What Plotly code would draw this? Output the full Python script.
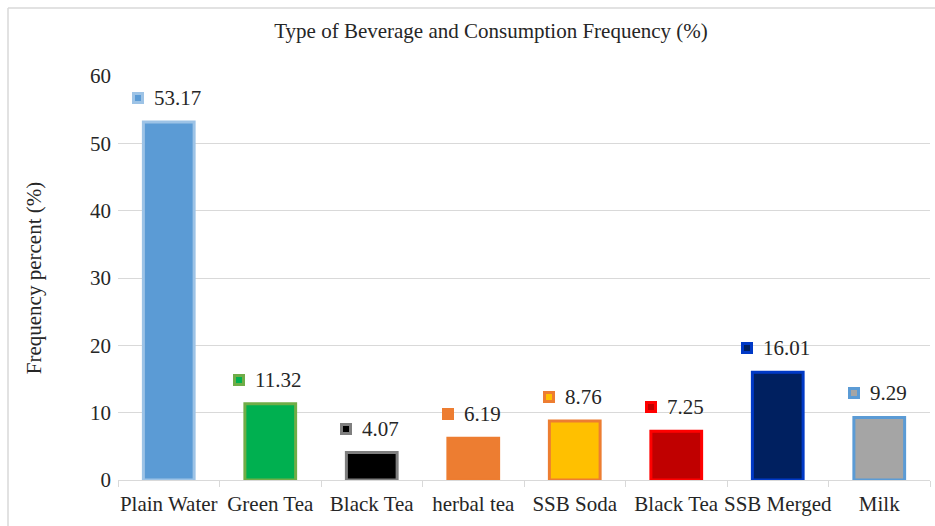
import plotly.graph_objects as go

categories = ["Plain Water", "Green Tea", "Black Tea", "herbal tea", "SSB Soda", "Black Tea", "SSB Merged", "Milk"]
values = [53.17, 11.32, 4.07, 6.19, 8.76, 7.25, 16.01, 9.29]
fill_colors = ["#5B9BD5", "#00B050", "#000000", "#ED7D31", "#FFC000", "#C00000", "#002060", "#A5A5A5"]
line_colors = ["#9DC3E6", "#70AD47", "#7F7F7F", "#ED7D31", "#ED7D31", "#FF0000", "#0039C6", "#5B9BD5"]
y_ticks = [0, 10, 20, 30, 40, 50, 60]

W, H = 935, 526
ML, MR, MT, MB = 118, 5, 76, 46
PW, PH = W - ML - MR, H - MT - MB
FONT = "Liberation Serif"
TXT = "#262626"
FS = 21

xs = list(range(len(categories)))

fig = go.Figure()
fig.add_trace(go.Bar(
    x=xs, y=values, width=0.5,
    marker=dict(color=fill_colors, line=dict(color=line_colors, width=3)),
    hoverinfo="skip", showlegend=False,
))
# invisible trace on overlay axis to show boundary tick marks
fig.add_trace(go.Scatter(x=[-0.5, len(categories) - 0.5], y=[0, 0], xaxis="x2",
                         mode="lines", line=dict(width=0), hoverinfo="skip", showlegend=False))

annotations = []
for i, v in enumerate(values):
    label = f"{v:.2f}"
    tw = len(label) * 10.5 - 5.5
    gw = 12 + 9 + tw
    left = -3 - gw / 2
    annotations.append(dict(
        x=i, y=v, xref="x", yref="y", text=" ", showarrow=False,
        xshift=left + 6, yshift=24, width=6, height=6,
        font=dict(size=1), bgcolor=fill_colors[i], bordercolor=line_colors[i],
        borderwidth=3, borderpad=0, xanchor="center", yanchor="middle",
    ))
    annotations.append(dict(
        x=i, y=v, xref="x", yref="y", text=label, showarrow=False,
        xshift=left + 20, yshift=24, xanchor="left", yanchor="middle",
        font=dict(family=FONT, size=FS, color=TXT),
    ))

def px_to_paper_x(p):
    return (p - ML) / PW

def px_to_paper_y(p):
    return (H - MB - p) / PH

shapes = [
    dict(type="line", xref="paper", yref="paper",
         x0=px_to_paper_x(8), x1=px_to_paper_x(W + 5), y0=px_to_paper_y(8), y1=px_to_paper_y(8),
         line=dict(color="#D9D9D9", width=1.5)),
    dict(type="line", xref="paper", yref="paper",
         x0=px_to_paper_x(8), x1=px_to_paper_x(8), y0=px_to_paper_y(8), y1=px_to_paper_y(H + 5),
         line=dict(color="#D9D9D9", width=1.5)),
]

fig.update_layout(
    width=W, height=H,
    margin=dict(l=ML, r=MR, t=MT, b=MB, autoexpand=False),
    paper_bgcolor="white", plot_bgcolor="white",
    font=dict(family=FONT, size=FS, color=TXT),
    title=dict(text="Type of Beverage and Consumption Frequency (%)", x=491 / W, xref="container",
               xanchor="center", y=1 - 31 / H, yref="container", yanchor="middle",
               font=dict(family=FONT, size=FS, color=TXT)),
    xaxis=dict(range=[-0.5, len(categories) - 0.5], tickmode="array", tickvals=xs, ticktext=categories,
               showgrid=False, zeroline=False, showline=True, linecolor="#D9D9D9", linewidth=1,
               ticks="", tickfont=dict(family=FONT, size=FS, color=TXT), ticklabelstandoff=5),
    xaxis2=dict(range=[-0.5, len(categories) - 0.5], overlaying="x", side="bottom", anchor="y",
                tickmode="array", tickvals=[i - 0.5 for i in range(len(categories) + 1)],
                showticklabels=False, ticks="outside", ticklen=6, tickcolor="#D9D9D9",
                showgrid=False, zeroline=False, showline=False),
    yaxis=dict(range=[0, 60], tickmode="array", tickvals=y_ticks, showgrid=True, gridcolor="#D9D9D9",
               gridwidth=1, zeroline=False, showline=False, ticks="",
               tickfont=dict(family=FONT, size=FS, color=TXT), ticklabelstandoff=6,
               title=dict(text="Frequency percent (%)", standoff=42,
                          font=dict(family=FONT, size=FS, color=TXT))),
    annotations=annotations,
    shapes=shapes,
    bargap=0.5,
)

fig.write_html("out.html")
